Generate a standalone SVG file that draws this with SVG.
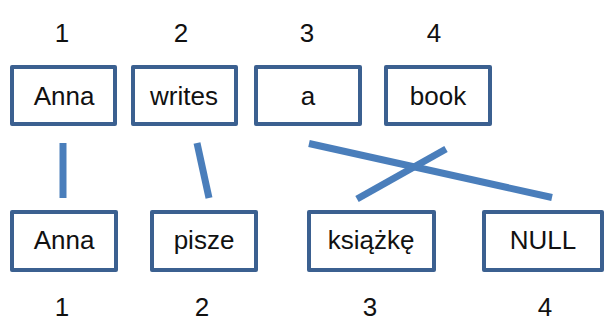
<svg xmlns="http://www.w3.org/2000/svg" width="605" height="322" viewBox="0 0 605 322">
<style>
.box{fill:#fff;stroke:#3b6090;stroke-width:4;stroke-linejoin:round}
.t{font-family:"Liberation Sans",Arial,sans-serif;font-size:26px;fill:#111;text-anchor:middle}
.n{font-family:"Liberation Sans",Arial,sans-serif;font-size:26px;fill:#111;text-anchor:middle}
.c{stroke:#4a7ebb;stroke-width:7;stroke-linecap:butt;fill:none}
</style>
<rect width="605" height="322" fill="#fff"/>
<g id="top-numbers">
<text class="n" x="62" y="42">1</text>
<text class="n" x="181" y="42">2</text>
<text class="n" x="307" y="42">3</text>
<text class="n" x="434" y="42">4</text>
</g>
<g id="bottom-numbers">
<text class="n" x="62" y="316">1</text>
<text class="n" x="202" y="316">2</text>
<text class="n" x="370" y="316">3</text>
<text class="n" x="545" y="316">4</text>
</g>
<g id="connectors">
<line class="c" x1="63" y1="143" x2="63" y2="198"/>
<line class="c" x1="197" y1="143" x2="209" y2="198"/>
<line class="c" x1="309" y1="143.5" x2="552" y2="197.5"/>
<line class="c" x1="446" y1="149" x2="357" y2="199"/>
</g>
<g id="src-anna"><rect class="box" x="12" y="67" width="103" height="57"/><text class="t" x="64" y="105">Anna</text></g>
<g id="src-writes"><rect class="box" x="133" y="67" width="103" height="57"/><text class="t" x="184" y="105">writes</text></g>
<g id="src-a"><rect class="box" x="256" y="67" width="104" height="57"/><text class="t" x="308" y="105">a</text></g>
<g id="src-book"><rect class="box" x="386" y="67" width="104" height="57"/><text class="t" x="438" y="105">book</text></g>
<g id="tgt-anna"><rect class="box" x="12" y="212" width="104" height="58"/><text class="t" x="64" y="249">Anna</text></g>
<g id="tgt-pisze"><rect class="box" x="152" y="212" width="104" height="58"/><text class="t" x="204" y="249">pisze</text></g>
<g id="tgt-ksiazke"><rect class="box" x="309" y="212" width="125" height="58"/><text class="t" x="371" y="249">książkę</text></g>
<g id="tgt-null"><rect class="box" x="484" y="212" width="118" height="58"/><text class="t" x="543" y="249">NULL</text></g>
</svg>
